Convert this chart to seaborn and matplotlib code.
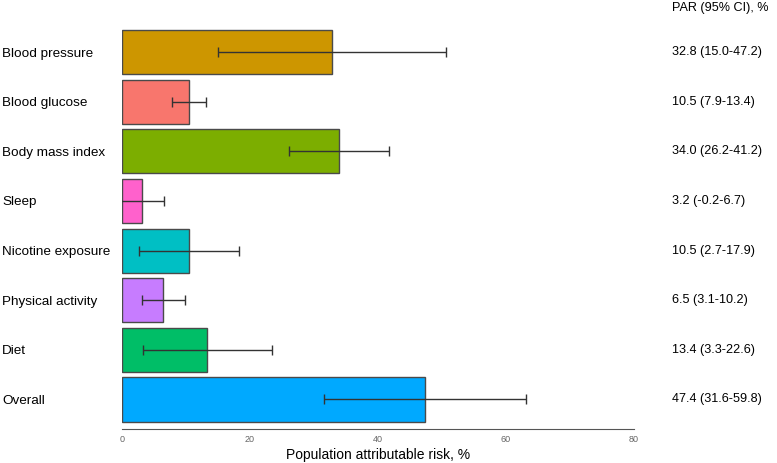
import matplotlib
matplotlib.use("Agg")
import matplotlib.pyplot as plt
import matplotlib.transforms as mtransforms
import seaborn as sns
from pandas import DataFrame

factors = ["Blood pressure", "Blood glucose", "Body mass index", "Sleep",
           "Nicotine exposure", "Physical activity", "Diet", "Overall"]
par = [32.8, 10.5, 34.0, 3.2, 10.5, 6.5, 13.4, 47.4]
ci_low = [15.0, 7.9, 26.2, -0.2, 2.7, 3.1, 3.3, 31.6]
ci_high = [47.2, 13.4, 41.2, 6.7, 17.9, 10.2, 22.6, 59.8]
colors = ["#CD9600", "#F8766D", "#7CAE00", "#FF61CC",
          "#00BFC4", "#C77CFF", "#00BE67", "#00A9FF"]
x_ticks = [0, 20, 40, 60, 80]

sns.set_style("white")
plt.rcParams['font.family'] = ['Liberation Sans', 'DejaVu Sans']
plt.rcParams['text.color'] = 'black'
plt.rcParams['axes.labelcolor'] = 'black'
plt.rcParams['ytick.color'] = 'black'

df = DataFrame({'factor': factors, 'par': par, 'low': ci_low, 'high': ci_high})
labels = [f"{p:.1f} ({lo:.1f}-{hi:.1f})" for p, lo, hi in zip(par, ci_low, ci_high)]

fig = plt.figure(figsize=(7.77, 4.63), dpi=100)
ax = fig.add_axes([0.1566, 0.0734, 0.6594, 0.8676])

sns.barplot(data=df, y='factor', x='par', hue='factor', palette=colors,
            orient='h', width=0.89, edgecolor='#4a4a4a', linewidth=1.0,
            saturation=1, legend=False, ax=ax)

# error bars as drawn in the source: symmetric around estimate using lower CI
err = [p - lo for p, lo in zip(par, ci_low)]
ax.errorbar(par, range(len(factors)), xerr=err, fmt='none', ecolor='#333333',
            elinewidth=1.0, capsize=3.3, capthick=1.0)

ax.set_xlim(0, 80)
ax.set_ylim(7.595, -0.5)
ax.set_xticks(x_ticks)
ax.set_xticklabels([str(t) for t in x_ticks], fontsize=6.5, color='#666666')
ax.tick_params(axis='x', direction='in', length=3, width=0.8, color='#555555', pad=4)
ax.set_xlabel("Population attributable risk, %", fontsize=10, labelpad=3)
ax.set_ylabel("")

ax.tick_params(axis='y', length=0, pad=86, labelsize=9.7, labelcolor='black')
for lab in ax.get_yticklabels():
    lab.set_ha('left')

sns.despine(ax=ax, left=True, top=True, right=True)
ax.spines['bottom'].set_color('#555555')
ax.spines['bottom'].set_linewidth(0.8)

trans = mtransforms.blended_transform_factory(ax.transAxes, ax.transData)
for i, s in enumerate(labels):
    ax.text(1.074, i, s, transform=trans, ha='left', va='center',
            fontsize=9.1, color='black', clip_on=False)
ax.text(1.074, -0.89, "PAR (95% CI), %", transform=trans, ha='left',
        va='center', fontsize=9.1, color='black', clip_on=False)

fig.savefig("out.png", dpi=100)
